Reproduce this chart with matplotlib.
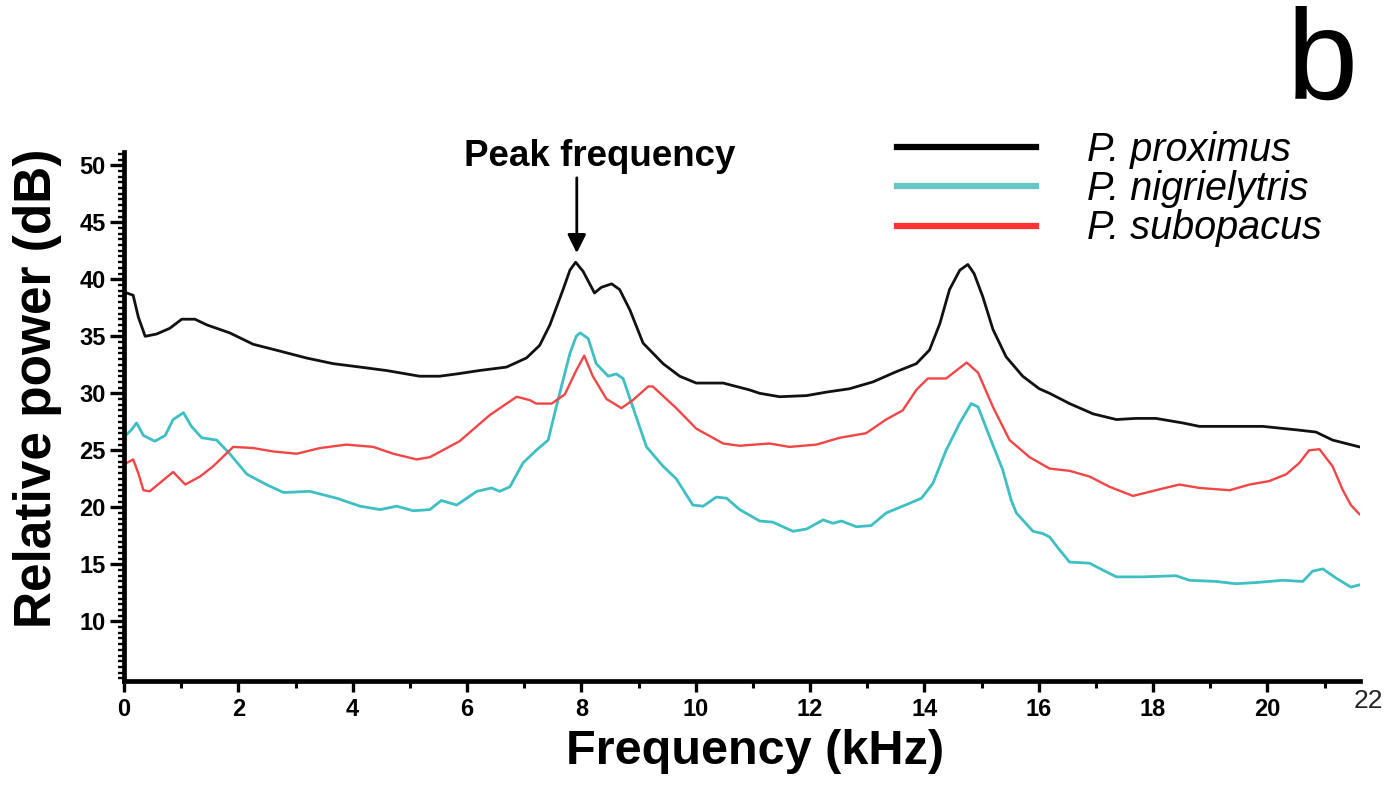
import matplotlib
matplotlib.use("Agg")
import matplotlib.pyplot as plt
from matplotlib.ticker import MultipleLocator, FixedLocator
from matplotlib.lines import Line2D

# ---------------- data ----------------
prox_f = [0.05, 0.16, 0.25, 0.37, 0.57, 0.80, 1.01, 1.24, 1.45, 1.85, 2.26, 2.73, 3.19, 3.66,
          4.13, 4.59, 5.17, 5.52, 5.82, 6.22, 6.69, 7.04, 7.27, 7.45, 7.68, 7.80, 7.90, 8.03,
          8.23, 8.35, 8.53, 8.67, 8.85, 9.08, 9.43, 9.72, 10.01, 10.48, 10.94, 11.12, 11.47,
          11.94, 12.28, 12.69, 13.10, 13.51, 13.86, 14.09, 14.27, 14.44, 14.62, 14.76, 14.87,
          15.02, 15.20, 15.43, 15.72, 16.01, 16.19, 16.54, 16.95, 17.36, 17.70, 18.05, 18.52,
          18.81, 19.92, 20.50, 20.85, 21.14, 21.61]
prox_db = [38.8, 38.6, 36.7, 35.0, 35.2, 35.7, 36.5, 36.5, 36.0, 35.3, 34.3, 33.7, 33.1, 32.6,
           32.3, 32.0, 31.5, 31.5, 31.7, 32.0, 32.3, 33.1, 34.2, 36.0, 39.1, 40.8, 41.5, 40.7,
           38.8, 39.3, 39.6, 39.1, 37.3, 34.4, 32.6, 31.5, 30.9, 30.9, 30.3, 30.0, 29.7,
           29.8, 30.1, 30.4, 31.0, 31.9, 32.6, 33.8, 36.1, 39.1, 40.8, 41.3, 40.5,
           38.5, 35.6, 33.2, 31.5, 30.4, 30.0, 29.1, 28.2, 27.7, 27.8, 27.8, 27.4,
           27.1, 27.1, 26.8, 26.6, 25.9, 25.3]

nigr_f = [0.05, 0.13, 0.22, 0.34, 0.54, 0.72, 0.86, 1.04, 1.18, 1.36, 1.62, 1.85, 2.15, 2.49,
          2.79, 3.25, 3.72, 4.13, 4.48, 4.77, 5.06, 5.35, 5.55, 5.82, 6.17, 6.43, 6.57, 6.75,
          6.98, 7.21, 7.42, 7.56, 7.80, 7.91, 7.98, 8.12, 8.26, 8.47, 8.61, 8.73, 8.90, 9.14,
          9.43, 9.66, 9.95, 10.13, 10.36, 10.54, 10.77, 11.12, 11.35, 11.70, 11.94, 12.23,
          12.40, 12.55, 12.81, 13.07, 13.33, 13.62, 13.95, 14.15, 14.38, 14.62, 14.82, 14.94,
          15.14, 15.37, 15.52, 15.61, 15.90, 16.07, 16.19, 16.36, 16.54, 16.89, 17.12, 17.36,
          17.82, 18.40, 18.64, 19.10, 19.45, 19.80, 20.27, 20.62, 20.79, 20.97, 21.20, 21.46,
          21.61]
nigr_db = [26.4, 26.8, 27.4, 26.3, 25.8, 26.3, 27.7, 28.3, 27.1, 26.1, 25.9, 24.7, 22.9, 22.0,
           21.3, 21.4, 20.8, 20.1, 19.8, 20.1, 19.7, 19.8, 20.6, 20.2, 21.4, 21.7, 21.4, 21.8,
           23.9, 25.0, 25.9, 28.8, 33.5, 35.0, 35.3, 34.8, 32.6, 31.5, 31.7, 31.3, 28.8, 25.3,
           23.6, 22.5, 20.2, 20.1, 20.9, 20.8, 19.8, 18.8, 18.7, 17.9, 18.1, 18.9,
           18.6, 18.8, 18.3, 18.4, 19.5, 20.1, 20.8, 22.1, 25.0, 27.4, 29.1, 28.8,
           26.2, 23.3, 20.6, 19.5, 17.9, 17.7, 17.4, 16.3, 15.2, 15.1, 14.5, 13.9,
           13.9, 14.0, 13.6, 13.5, 13.3, 13.4, 13.6, 13.5, 14.4, 14.6, 13.8, 13.0,
           13.2]

subo_f = [0.05, 0.16, 0.25, 0.34, 0.45, 0.69, 0.86, 1.07, 1.33, 1.56, 1.91, 2.26, 2.61, 3.02,
          3.43, 3.89, 4.36, 4.71, 5.12, 5.35, 5.87, 6.40, 6.87, 7.10, 7.21, 7.48, 7.71, 7.91,
          8.05, 8.20, 8.44, 8.70, 8.90, 9.17, 9.25, 9.66, 10.01, 10.48, 10.77, 11.29, 11.64,
          12.11, 12.52, 12.98, 13.33, 13.62, 13.86, 14.06, 14.38, 14.56, 14.74, 14.94, 15.20,
          15.49, 15.84, 16.19, 16.54, 16.89, 17.24, 17.65, 18.05, 18.46, 18.81, 19.34, 19.69,
          20.03, 20.33, 20.56, 20.73, 20.91, 21.14, 21.32, 21.46, 21.61]
subo_db = [23.9, 24.2, 23.0, 21.5, 21.4, 22.4, 23.1, 22.0, 22.7, 23.6, 25.3, 25.2, 24.9, 24.7,
           25.2, 25.5, 25.3, 24.7, 24.2, 24.4, 25.8, 28.1, 29.7, 29.4, 29.1, 29.1, 29.9, 32.0,
           33.3, 31.5, 29.5, 28.7, 29.4, 30.6, 30.6, 28.7, 26.9, 25.6, 25.4, 25.6, 25.3,
           25.5, 26.1, 26.5, 27.7, 28.5, 30.3, 31.3, 31.3, 32.0, 32.7, 31.8, 28.8,
           25.9, 24.4, 23.4, 23.2, 22.7, 21.8, 21.0, 21.5, 22.0, 21.7, 21.5, 22.0,
           22.3, 22.9, 23.9, 25.0, 25.1, 23.6, 21.5, 20.2, 19.4]

species = ["P. proximus", "P. nigrielytris", "P. subopacus"]
x_ticks = [0, 2, 4, 6, 8, 10, 12, 14, 16, 18, 20]
y_ticks = [10, 15, 20, 25, 30, 35, 40, 45, 50]
peak_freq = 7.92

# ---------------- figure ----------------
W, H = 1392, 787
fig = plt.figure(figsize=(W / 100, H / 100), dpi=100)
fig.patch.set_facecolor("white")

ax = fig.add_axes([124 / W, (H - 681.2) / H, 1236 / W, 529.6 / H])

c_black = "#111111"
c_cyan = "#3DBFC3"
c_red = "#F24545"

ax.plot(prox_f, prox_db, color=c_black, lw=2.0, solid_joinstyle="round")
ax.plot(nigr_f, nigr_db, color=c_cyan, lw=2.0, solid_joinstyle="round")
ax.plot(subo_f, subo_db, color=c_red, lw=1.7, solid_joinstyle="round")

ax.set_xlim(0, 21.62)
ax.set_ylim(4.75, 51.2)

for s in ["top", "right"]:
    ax.spines[s].set_visible(False)
for s in ["left", "bottom"]:
    ax.spines[s].set_linewidth(3.4)
    ax.spines[s].set_color("black")

tick_font = dict(family=["Liberation Sans", "DejaVu Sans"], weight="bold", size=17)

ax.xaxis.set_major_locator(FixedLocator(x_ticks))
ax.xaxis.set_minor_locator(FixedLocator([v + 1 for v in x_ticks]))
ax.yaxis.set_major_locator(FixedLocator(y_ticks))
ax.yaxis.set_minor_locator(MultipleLocator(0.5))
ax.set_xticklabels([str(v) for v in x_ticks], fontdict=tick_font)
ax.set_yticklabels([str(v) for v in y_ticks], fontdict=tick_font)

ax.tick_params(axis="x", which="major", direction="out", length=8, width=2.4, pad=4)
ax.tick_params(axis="x", which="minor", direction="out", length=5, width=2.2)
ax.tick_params(axis="y", which="major", direction="out", length=10, width=2.4, pad=3)
ax.tick_params(axis="y", which="minor", direction="out", length=4, width=1.7)

# right-end label "22" (thinner font in the original)
ax.text(21.77, -(701 - 681.2) / 529.6, "22", transform=ax.get_xaxis_transform(),
        ha="center", va="center", fontsize=19, family="Liberation Sans", color="#222222")

ax.set_xlabel("Frequency (kHz)", fontsize=35, fontweight="bold",
              family="Liberation Sans", labelpad=4)
ax.xaxis.set_label_coords((755 - 124) / 1236, -(752 - 681.2) / 529.6)
ax.xaxis.label.set_va("center")
ax.set_ylabel("Relative power (dB)", fontsize=37, fontweight="bold",
              family="Liberation Sans")
ax.yaxis.set_label_coords(-(124 - 38) / 1236, (681.2 - 388) / 529.6)
ax.yaxis.label.set_va("center")

# peak-frequency annotation
ax.annotate("", xy=(peak_freq, 42.3), xytext=(peak_freq, 48.9),
            arrowprops=dict(arrowstyle="-|>", color="black", lw=2,
                            mutation_scale=28, shrinkA=0, shrinkB=0))
fig.text(600 / W, 1 - 157 / H, "Peak frequency", ha="center", va="center",
         fontsize=26.5, fontweight="bold", family="Liberation Sans")

# legend
handles = [Line2D([], [], color="black", lw=4.5),
           Line2D([], [], color="#66C6C6", lw=4.5),
           Line2D([], [], color="#FF3333", lw=4.5)]
leg = ax.legend(handles, species, loc="upper left",
                bbox_to_anchor=(897 / W, 1 - 131 / H), bbox_transform=fig.transFigure,
                frameon=False, borderpad=0, borderaxespad=0,
                handlelength=3.5, handletextpad=1.29, labelspacing=0.03,
                prop=dict(family="Liberation Sans", style="italic", size=28.5))

# panel letter
fig.text(1322 / W, 1 - 66 / H, "b", ha="center", va="center", fontsize=92,
         family="Liberation Sans")

fig.savefig("out.png", dpi=100, facecolor="white")
